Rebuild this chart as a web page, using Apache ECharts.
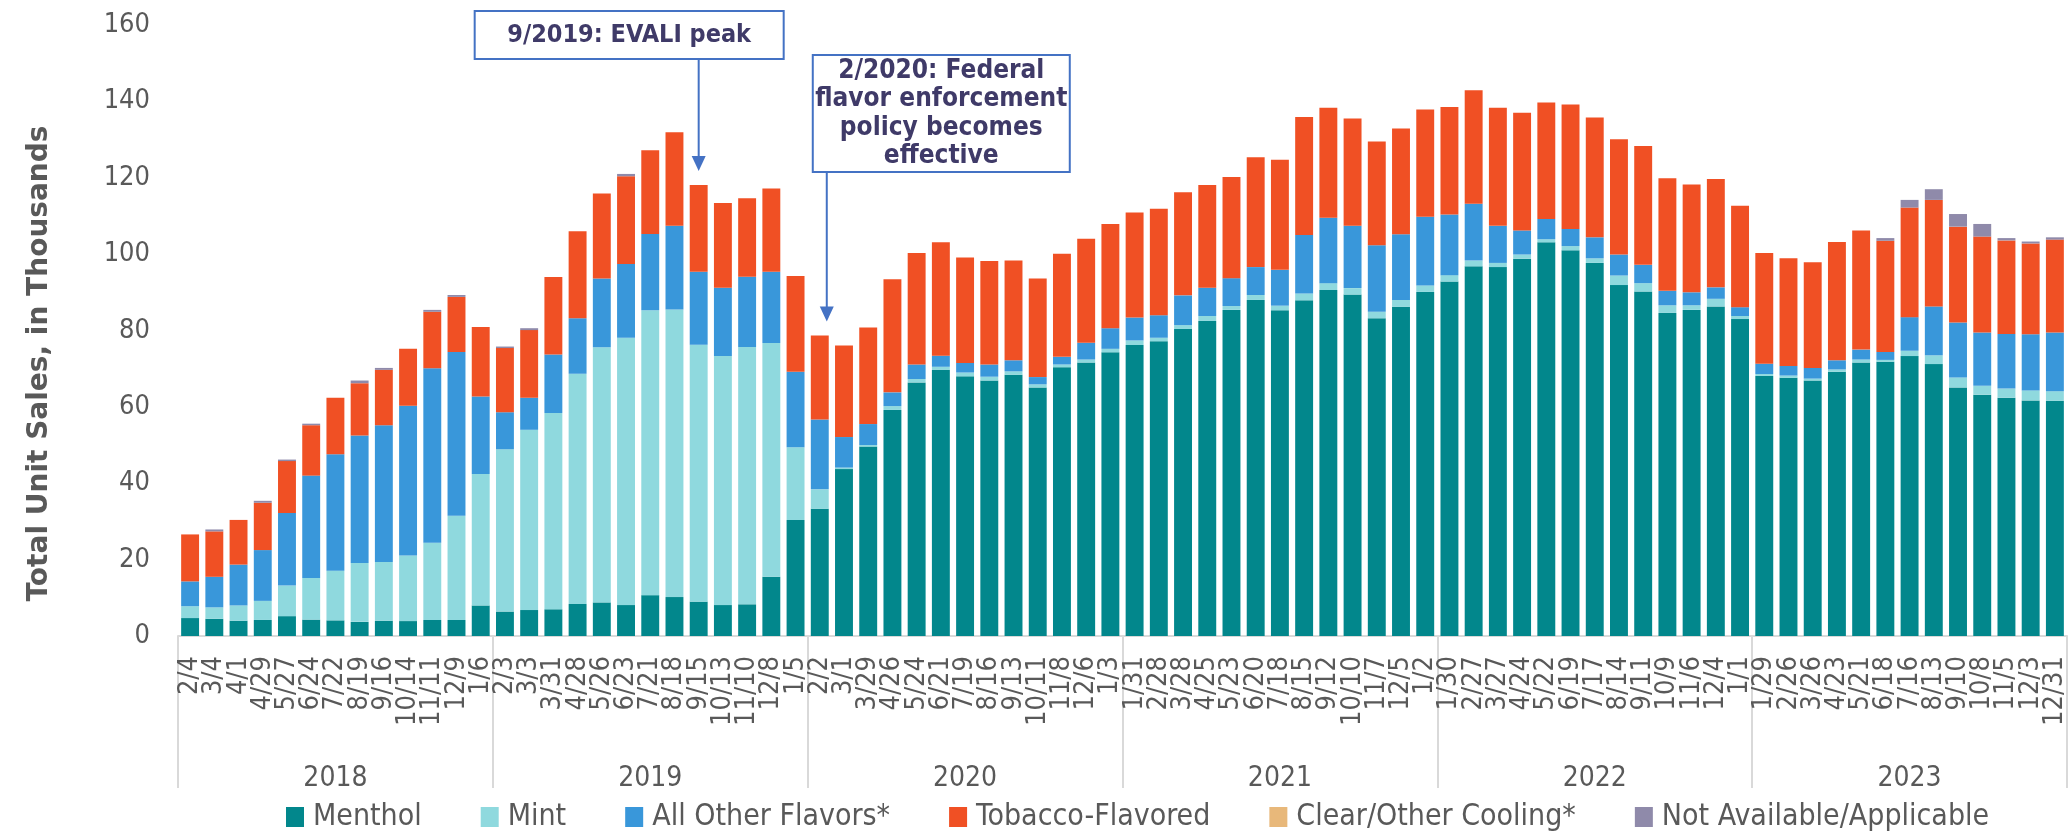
<!DOCTYPE html>
<html>
<head>
<meta charset="utf-8">
<title>Unit sales by flavor</title>
<script src="https://cdn.jsdelivr.net/npm/echarts@6/dist/echarts.min.js"></script>
<style>
  html, body { margin: 0; padding: 0; background: #fff; }
  #chart { width: 2070px; height: 836px; }
</style>
</head>
<body>
<div id="chart"></div>
<script>
// 4-week periods, grouped by year
const dates = [
  '2/4', '3/4', '4/1', '4/29', '5/27', '6/24', '7/22', '8/19', '9/16', '10/14', '11/11', '12/9', '1/6',
  '2/3', '3/3', '3/31', '4/28', '5/26', '6/23', '7/21', '8/18', '9/15', '10/13', '11/10', '12/8', '1/5',
  '2/2', '3/1', '3/29', '4/26', '5/24', '6/21', '7/19', '8/16', '9/13', '10/11', '11/8', '12/6', '1/3',
  '1/31', '2/28', '3/28', '4/25', '5/23', '6/20', '7/18', '8/15', '9/12', '10/10', '11/7', '12/5', '1/2',
  '1/30', '2/27', '3/27', '4/24', '5/22', '6/19', '7/17', '8/14', '9/11', '10/9', '11/6', '12/4', '1/1',
  '1/29', '2/26', '3/26', '4/23', '5/21', '6/18', '7/16', '8/13', '9/10', '10/8', '11/5', '12/3', '12/31'
]
const years = ['2018', '2019', '2020', '2021', '2022', '2023']
const yTicks = [0, 20, 40, 60, 80, 100, 120, 140, 160]

// unit sales, thousands
const menthol = [
  4.7, 4.5, 4.0, 4.2, 5.2, 4.3, 4.1, 3.7, 4.0, 3.9, 4.2, 4.2, 8.0,
  6.4, 6.8, 7.0, 8.4, 8.8, 8.1, 10.7, 10.2, 9.0, 8.1, 8.3, 15.5, 30.4,
  33.3, 43.7, 49.6, 59.2, 66.4, 69.7, 68.0, 66.9, 68.4, 65.1, 70.4, 71.6, 74.3,
  76.2, 77.2, 80.4, 82.5, 85.4, 88.0, 85.3, 87.9, 90.6, 89.4, 83.2, 86.2, 90.1,
  92.8, 96.8, 96.6, 98.8, 103.1, 101.0, 97.7, 91.9, 90.2, 84.6, 85.4, 86.3, 83.0,
  68.1, 67.6, 66.9, 69.2, 71.6, 71.8, 73.3, 71.2, 65.1, 63.2, 62.4, 61.7, 61.6
]
const mint = [
  3.1, 3.0, 4.0, 5.0, 8.0, 10.9, 13.0, 15.4, 15.4, 17.2, 20.2, 27.3, 34.4,
  42.5, 47.2, 51.4, 60.3, 66.8, 70.0, 74.6, 75.3, 67.3, 65.2, 67.4, 61.2, 19.0,
  5.1, 0.4, 0.4, 1.0, 0.9, 0.8, 1.0, 1.0, 0.9, 0.8, 0.7, 0.8, 0.9,
  1.2, 0.9, 1.0, 1.3, 1.0, 1.3, 1.2, 1.8, 1.8, 1.7, 1.7, 1.8, 1.7,
  1.7, 1.5, 1.1, 1.1, 0.8, 1.1, 1.2, 2.5, 2.2, 2.0, 1.2, 2.0, 0.8,
  0.5, 0.6, 0.5, 0.6, 0.8, 0.5, 1.4, 2.3, 2.6, 2.3, 2.4, 2.6, 2.5
]
const otherFlavors = [
  6.5, 8.0, 10.7, 13.3, 19.0, 26.8, 30.5, 33.4, 35.8, 39.2, 45.7, 42.9, 20.3,
  9.7, 8.4, 15.3, 14.5, 18.0, 19.3, 20.0, 21.9, 19.1, 17.9, 18.4, 18.7, 19.8,
  18.3, 8.0, 5.5, 3.6, 3.8, 2.9, 2.5, 3.2, 2.9, 1.9, 2.0, 4.4, 5.4,
  6.0, 5.9, 7.8, 7.4, 7.3, 7.3, 9.4, 15.3, 17.1, 16.3, 17.4, 17.2, 18.0,
  15.9, 14.9, 9.7, 6.3, 5.3, 4.5, 5.5, 5.5, 4.8, 3.8, 3.4, 3.0, 2.3,
  2.7, 2.5, 2.8, 2.4, 2.6, 2.1, 8.8, 12.8, 14.4, 14.0, 14.3, 14.7, 15.4
]
const tobacco = [
  12.3, 11.9, 11.7, 12.4, 13.6, 13.2, 14.8, 13.7, 14.5, 14.9, 14.8, 14.4, 18.2,
  16.8, 17.7, 20.3, 22.8, 22.3, 23.0, 21.9, 24.5, 22.7, 22.2, 20.5, 21.8, 25.1,
  22.0, 24.0, 25.3, 29.6, 29.2, 29.7, 27.6, 27.1, 26.1, 25.8, 27.0, 27.2, 27.3,
  27.5, 27.9, 27.0, 26.9, 26.5, 28.8, 28.8, 30.9, 28.8, 28.1, 27.2, 27.7, 28.1,
  28.1, 29.7, 30.9, 30.8, 30.5, 32.6, 31.4, 30.2, 31.1, 29.5, 28.2, 28.4, 26.6,
  29.0, 28.2, 27.7, 31.0, 31.2, 29.1, 28.7, 27.9, 25.1, 25.1, 24.5, 23.8, 24.3
]
const clearCooling = [
  0, 0, 0, 0, 0, 0, 0, 0, 0, 0, 0, 0, 0,
  0, 0, 0, 0, 0, 0, 0, 0, 0, 0, 0, 0, 0,
  0, 0, 0, 0, 0, 0, 0, 0, 0, 0, 0, 0, 0,
  0, 0, 0, 0, 0, 0, 0, 0, 0, 0, 0, 0, 0,
  0, 0, 0, 0, 0, 0, 0, 0, 0, 0, 0, 0, 0,
  0, 0, 0, 0, 0, 0, 0, 0, 0, 0, 0, 0, 0
]
const notAvailable = [
  0, 0.5, 0, 0.5, 0.4, 0.4, 0, 0.7, 0.5, 0, 0.5, 0.5, 0,
  0.4, 0.5, 0, 0, 0, 0.6, 0, 0, 0, 0, 0, 0, 0,
  0, 0, 0, 0, 0, 0, 0, 0, 0, 0, 0, 0, 0,
  0, 0, 0, 0, 0, 0, 0, 0, 0, 0, 0, 0, 0,
  0, 0, 0, 0, 0, 0, 0, 0, 0, 0, 0, 0, 0,
  0, 0, 0, 0, 0, 0.7, 2.0, 2.8, 3.3, 3.3, 0.6, 0.5, 0.6
]

const FONT = '"DejaVu Sans Condensed", "Liberation Sans Narrow", "DejaVu Sans", sans-serif'
const GREY = '#595959'
const LINE = '#d9d9d9'
const NOTE_BLUE = '#4472c4'
const NOTE_TEXT = '#3f3a68'

const chart = echarts.init(document.getElementById('chart'), null, { renderer: 'canvas' })

function bar (name, data, color) {
  return {
    name: name,
    type: 'bar',
    stack: 'total',
    barCategoryGap: '26%',
    data: data,
    itemStyle: { color: color },
    emphasis: { disabled: true }
  }
}

const option = {
  animation: false,
  textStyle: { fontFamily: FONT },
  grid: {
    left: 178,
    right: 3,
    top: 25,
    bottom: 200,
    outerBoundsMode: 'none'
  },
  legend: {
    left: 281,
    top: 797,
    icon: 'rect',
    itemWidth: 18,
    itemHeight: 20,
    itemGap: 59,
    textStyle: { fontFamily: FONT, fontSize: 30, color: GREY, padding: [0, 0, 0, 4] },
    data: ['Menthol', 'Mint', 'All Other Flavors*', 'Tobacco-Flavored',
      'Clear/Other Cooling*', 'Not Available/Applicable']
  },
  xAxis: [
    {
      type: 'category',
      data: dates,
      position: 'bottom',
      axisLine: { show: true, lineStyle: { color: LINE, width: 2 } },
      axisTick: { show: false },
      axisLabel: {
        interval: 0,
        rotate: 90,
        margin: 20,
        fontFamily: FONT,
        fontSize: 27,
        color: GREY
      }
    },
    {
      type: 'category',
      data: years,
      position: 'bottom',
      axisLine: { show: false },
      axisTick: {
        show: true,
        interval: 0,
        length: 152,
        lineStyle: { color: LINE, width: 2 }
      },
      axisLabel: {
        interval: 0,
        margin: 129,
        fontFamily: FONT,
        fontSize: 28,
        color: GREY
      }
    }
  ],
  yAxis: {
    type: 'value',
    min: yTicks[0],
    max: yTicks[yTicks.length - 1],
    interval: yTicks[1] - yTicks[0],
    splitLine: { show: false },
    axisLine: { show: false },
    axisTick: { show: false },
    axisLabel: { margin: 28, fontFamily: FONT, fontSize: 27, color: GREY },
    name: 'Total Unit Sales, in Thousands',
    nameLocation: 'middle',
    nameRotate: 90,
    nameGap: 124,
    nameTextStyle: {
      fontFamily: '"DejaVu Sans", Verdana, sans-serif',
      fontWeight: 'bold',
      fontSize: 28,
      color: GREY,
      padding: [0, 66, 0, 0]
    }
  },
  series: [
    bar('Menthol', menthol, '#02878c'),
    bar('Mint', mint, '#8fd9de'),
    bar('All Other Flavors*', otherFlavors, '#3997da'),
    bar('Tobacco-Flavored', tobacco, '#f05024'),
    bar('Clear/Other Cooling*', clearCooling, '#e8b87a'),
    bar('Not Available/Applicable', notAvailable, '#8f8aaa')
  ]
}

chart.setOption(option)

// annotation boxes with arrows pointing at a bar
function total (i) {
  return menthol[i] + mint[i] + otherFlavors[i] + tobacco[i] + clearCooling[i] + notAvailable[i]
}

function note (idx, dx, box, lines) {
  const x = chart.convertToPixel({ xAxisIndex: 0 }, idx) + dx
  const tipY = chart.convertToPixel({ yAxisIndex: 0 }, total(idx)) - 14
  const left = x - box.offset
  return [
    {
      type: 'rect',
      shape: { x: left, y: box.top, width: box.width, height: box.height },
      style: { fill: '#fff', stroke: NOTE_BLUE, lineWidth: 2 }
    },
    {
      type: 'text',
      x: left + box.width / 2,
      y: box.top + box.height / 2,
      style: {
        text: lines.join('\n'),
        fontFamily: FONT,
        fontWeight: 'bold',
        fontSize: box.fontSize,
        lineHeight: 28.5,
        fill: NOTE_TEXT,
        align: 'center',
        verticalAlign: 'middle'
      }
    },
    {
      type: 'line',
      shape: { x1: x, y1: box.top + box.height, x2: x, y2: tipY - 14 },
      style: { stroke: NOTE_BLUE, lineWidth: 2 }
    },
    {
      type: 'polygon',
      shape: { points: [[x - 7, tipY - 15], [x + 7, tipY - 15], [x, tipY]] },
      style: { fill: NOTE_BLUE }
    }
  ]
}

chart.setOption({
  graphic: [].concat(
    note(21, 0, { offset: 224, top: 11, width: 309, height: 48, fontSize: 25 }, ['9/2019: EVALI peak']),
    note(26, 7, { offset: 14, top: 55, width: 257, height: 117, fontSize: 26 },
      ['2/2020: Federal', 'flavor enforcement', 'policy becomes', 'effective'])
  )
})
</script>
</body>
</html>
